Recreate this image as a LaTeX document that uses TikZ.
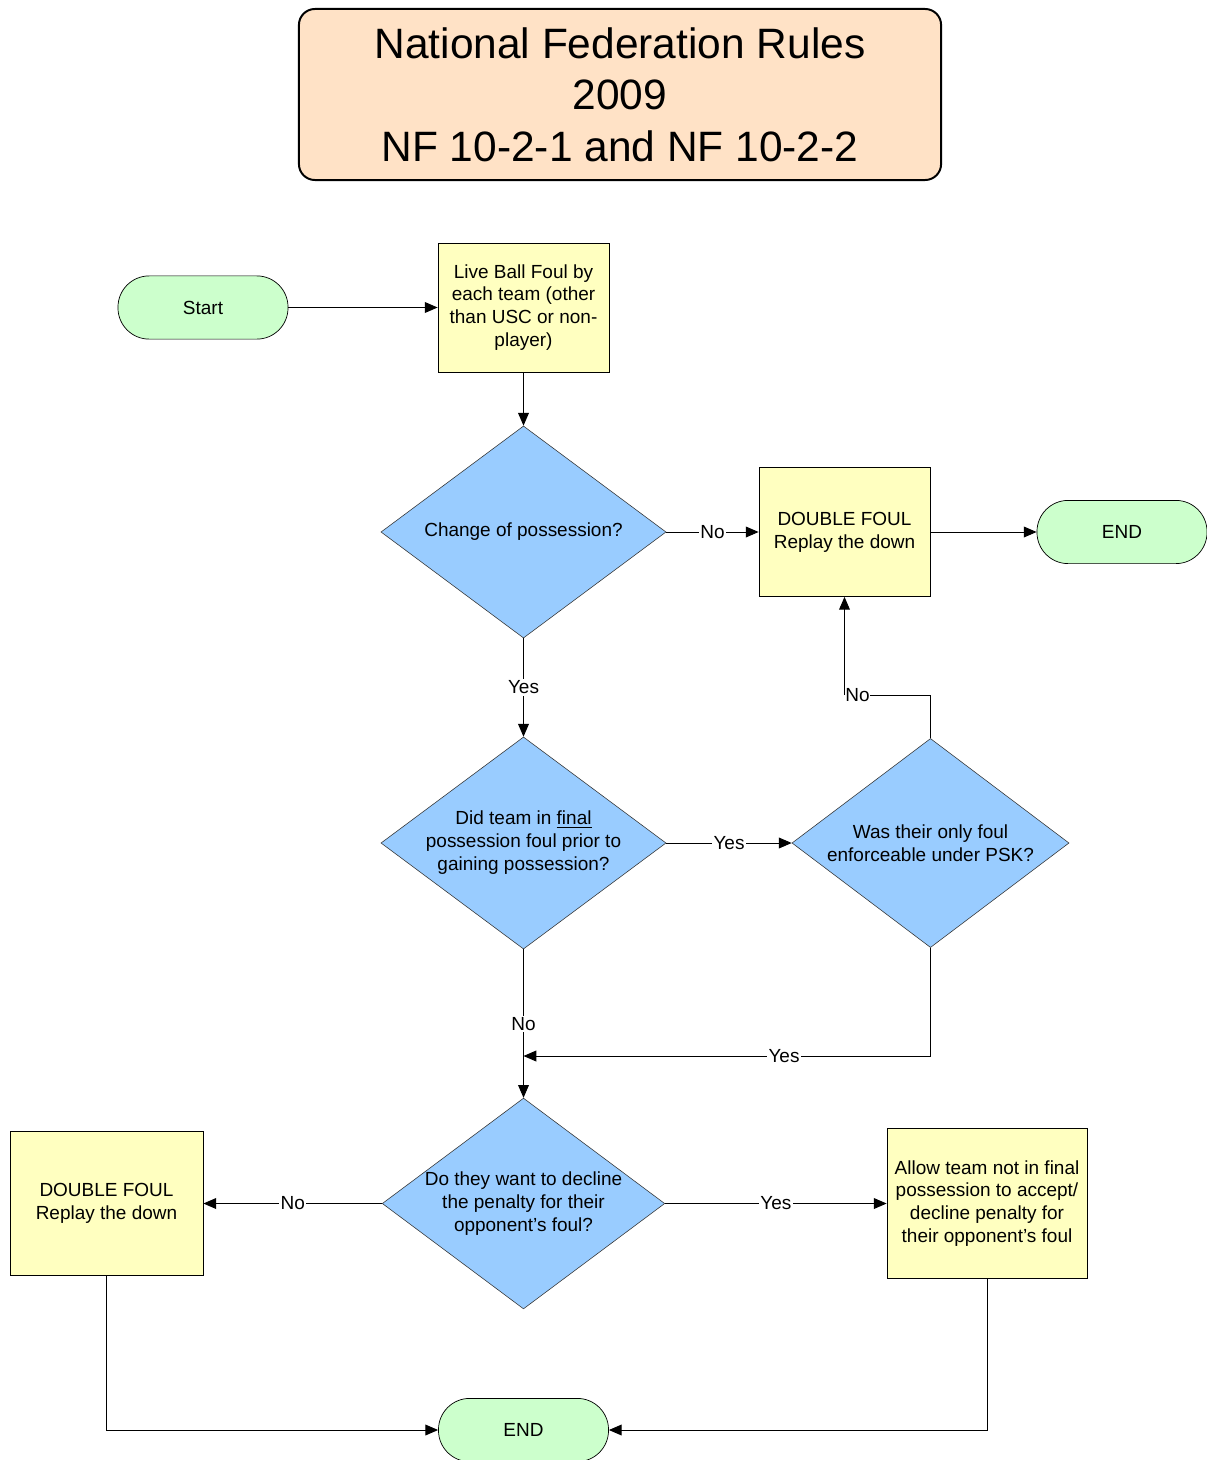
\documentclass[tikz,border=0pt]{standalone}
\usepackage{fontspec}
\setmainfont{Liberation Sans}
\usepackage{xcolor}
\usepackage{tikz}
\usetikzlibrary{shapes.geometric}
\usetikzlibrary{arrows.meta}
\usetikzlibrary{calc}
\definecolor{procfill}{RGB}{255,255,192}
\definecolor{decfill}{RGB}{153,204,255}
\definecolor{termfill}{RGB}{204,255,204}
\definecolor{titlefill}{RGB}{255,226,198}
\tikzset{bodyfont/.style={font=\fontsize{13.5pt}{16.3pt}\selectfont}}
\tikzset{terminal/.style={draw,fill=termfill,rectangle,rounded corners=0.78cm,minimum width=4.25cm,minimum height=1.58cm,bodyfont,line width=0.5pt}}
\tikzset{process/.style={draw,fill=procfill,rectangle,align=center,inner sep=0pt,bodyfont,line width=0.5pt}}
\tikzset{decision/.style={draw=black!80,fill=decfill,diamond,align=center,inner sep=0pt,shape aspect=1.34,bodyfont,line width=0.4pt}}
\tikzset{flow/.style={-{Triangle[length=0.32cm,width=0.27cm]},line width=0.7pt}}
\tikzset{lbl/.style={fill=white,inner sep=1pt,bodyfont}}

\begin{document}
\begin{tikzpicture}[x=0.025cm,y=-0.025cm]
\useasboundingbox (0,0) rectangle (1207,1460);
{
% title
\node[draw,fill=titlefill,rounded corners=0.4cm,line width=1.4pt,minimum width=16.05cm,minimum height=4.275cm,align=center,font=\fontsize{30.2pt}{36.6pt}\selectfont] (title) at (620,94.5) {National Federation Rules\\2009\\NF 10-2-1 and NF 10-2-2};
% nodes
\node[terminal] (start) at (203,307.5) {Start};
\node[process,minimum width=4.275cm,minimum height=3.225cm] (live) at (523.5,307.5) {Live Ball Foul by\\each team (other\\than USC or non-\\player)};
\node[decision,minimum width=7.125cm,minimum height=5.3cm] (chg) at (523.5,532) {Change of possession?};
\node[process,minimum width=4.275cm,minimum height=3.225cm] (dfone) at (844.5,532) {DOUBLE FOUL\\Replay the down};
\node[terminal] (endone) at (1122,532) {END};
\node[decision,minimum width=7.125cm,minimum height=5.3cm] (final) at (523.5,843) {Did team in \underline{final}\\possession foul prior to\\gaining possession?};
\node[decision,minimum width=6.925cm,minimum height=5.225cm] (psk) at (930.5,843) {Was their only foul\\enforceable under PSK?};
\node[decision,minimum width=6.925cm,minimum height=5.2cm] (decl) at (523.5,1203.5) {Do they want to decline\\the penalty for their\\opponent's foul?};
\node[process,minimum width=4.825cm,minimum height=3.6cm] (dftwo) at (106.5,1203.5) {DOUBLE FOUL\\Replay the down};
\node[process,minimum width=5cm,minimum height=3.75cm] (allow) at (987,1203.5) {Allow team not in final\\possession to accept/\\decline penalty for\\their opponent’s foul};
\node[terminal] (endtwo) at (523.5,1430) {END};
\coordinate (nocorner) at (844.5,695);
\coordinate (merge) at (523.5,1056);
% connectors
\draw[flow] (start) -- (live);
\draw[flow] (live) -- (chg);
\draw[flow] (chg.east) -- node[lbl] (lblnoa) {No} (dfone.west);
\draw[flow] (dfone) -- (endone);
\draw[flow] (chg.south) -- node[lbl] (lblyesa) {Yes} (final.north);
\draw[flow] (final.east) -- node[lbl] (lblyesb) {Yes} (psk.west);
\draw (psk.north) |- (nocorner);
\draw[flow] (nocorner) -- (dfone.south);
\node[lbl,anchor=west,inner sep=0.5pt] (lblnob) at (nocorner) {No};
\draw[flow] (final.south) -- node[lbl] (lblnoc) {No} (decl.north);
\draw[flow] (psk.south) |- node[lbl,pos=0.68] (lblyesc) {Yes} (merge);
\draw[flow] (decl.west) -- node[lbl] (lblnod) {No} (dftwo.east);
\draw[flow] (decl.east) -- node[lbl] (lblyesd) {Yes} (allow.west);
\draw[flow] (dftwo.south) |- (endtwo.west);
\draw[flow] (allow.south) |- (endtwo.east);
}
\end{tikzpicture}
\end{document}
